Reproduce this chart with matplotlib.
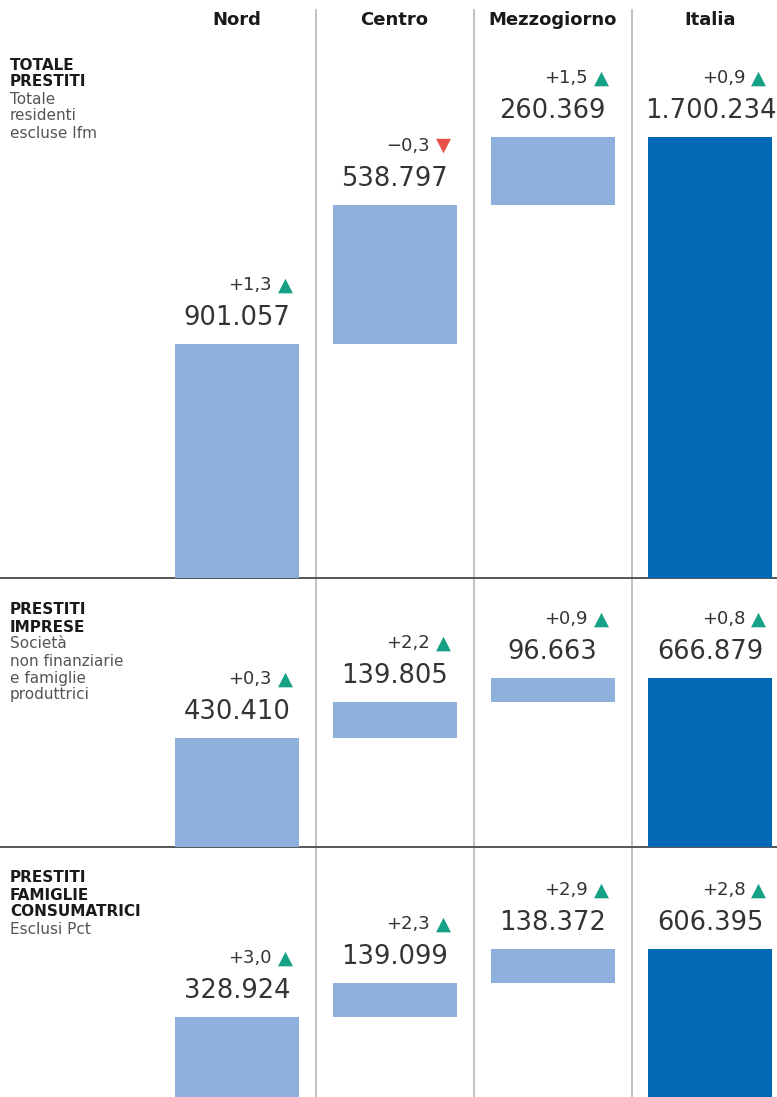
import matplotlib
matplotlib.use("Agg")
import matplotlib.pyplot as plt

# ---------------- data ----------------
regions = ["Nord", "Centro", "Mezzogiorno", "Italia"]

totale = [901057, 538797, 260369, 1700234]
totale_var = [1.3, -0.3, 1.5, 0.9]

imprese = [430410, 139805, 96663, 666879]
imprese_var = [0.3, 2.2, 0.9, 0.8]

famiglie = [328924, 139099, 138372, 606395]
famiglie_var = [3.0, 2.3, 2.9, 2.8]

panel_titles = [["TOTALE", "PRESTITI"],
                ["PRESTITI", "IMPRESE"],
                ["PRESTITI", "FAMIGLIE", "CONSUMATRICI"]]
panel_subtitles = [["Totale", "residenti", "escluse Ifm"],
                   ["Società", "non finanziarie", "e famiglie", "produttrici"],
                   ["Esclusi Pct"]]

# ---------------- style ----------------
W, H = 777, 1097
LIGHT = "#8db0dc"
DARK = "#0068b4"
GREEN = "#16a085"
RED = "#e8504a"
TXT = "#333333"
SEP = "#bdbdbd"

plt.rcParams["font.family"] = ["DejaVu Sans"]

fig = plt.figure(figsize=(W / 100, H / 100), dpi=100)
fig.patch.set_facecolor("white")

# background axes in pixel coordinates
bg = fig.add_axes([0, 0, 1, 1])
bg.set_xlim(0, W)
bg.set_ylim(H, 0)
bg.axis("off")

# vertical separators
for xs in (316, 474, 632):
    bg.plot([xs, xs], [10, H], color=SEP, lw=1.3, zorder=1)
# horizontal panel separators
for ys in (578, 847):
    bg.plot([0, W], [ys, ys], color="#555555", lw=1.4, zorder=5)

# column headers
col_centers = [237, 394.5, 552.5, 710.5]
for name, cx in zip(regions, col_centers):
    bg.text(cx, 20, name, ha="center", va="center", fontsize=13,
            fontweight="bold", color="#1a1a1a")

# left labels
label_tops = [65, 610, 878]
pitch = 17
for tlines, slines, y0 in zip(panel_titles, panel_subtitles, label_tops):
    y = y0
    for ln in tlines:
        bg.text(10, y, ln, ha="left", va="center", fontsize=11,
                fontweight="bold", color="#1a1a1a")
        y += pitch
    for ln in slines:
        bg.text(10, y, ln, ha="left", va="center", fontsize=11,
                color="#555555")
        y += pitch

# ---------------- panels ----------------
spacing = 157.8
x_px0 = 237
xlim = ((0 - x_px0) / spacing, (W - x_px0) / spacing)
bar_w = 124 / spacing

panels = [
    (totale, totale_var, 40, 578, 441 / 1700234),
    (imprese, imprese_var, 578, 847, 169 / 666879),
    (famiglie, famiglie_var, 847, 1097, 148 / 606395),
]


def fmt_val(v):
    return f"{v:,}".replace(",", ".")


def fmt_var(v):
    s = f"{abs(v):.1f}".replace(".", ",")
    return ("+" if v >= 0 else "\u2212") + s


px2pt = 0.72
for vals, vars_, top_px, base_px, scale in panels:
    hpx = base_px - top_px
    ax = fig.add_axes([0, 1 - base_px / H, 1, hpx / H])
    ax.patch.set_alpha(0)
    ax.set_xlim(*xlim)
    ax.set_ylim(0, hpx / scale)
    ax.axis("off")
    # waterfall bottoms: regions stack, Italia from zero
    bottoms = [0, vals[0], vals[0] + vals[1], 0]
    colors = [LIGHT, LIGHT, LIGHT, DARK]
    xs = list(range(len(regions)))
    ax.bar(xs, vals, bottom=bottoms, width=bar_w, color=colors,
           linewidth=0, zorder=3)
    for i, (v, b, d) in enumerate(zip(vals, bottoms, vars_)):
        top = v + b
        ax.annotate(fmt_val(v), (i, top), xytext=(0, 26 * px2pt),
                    textcoords="offset points", ha="center", va="center",
                    fontsize=18.5, color=TXT, annotation_clip=False)
        xr = i + bar_w / 2
        tri = "\u25b2" if d >= 0 else "\u25bc"
        tcol = GREEN if d >= 0 else RED
        ax.annotate(tri, (xr, top), xytext=(-6 * px2pt, 59 * px2pt),
                    textcoords="offset points", ha="right", va="center",
                    fontsize=14, color=tcol, annotation_clip=False)
        ax.annotate(fmt_var(d), (xr, top), xytext=(-27 * px2pt, 59 * px2pt),
                    textcoords="offset points", ha="right", va="center",
                    fontsize=13, color=TXT, annotation_clip=False)

fig.savefig("out.png", dpi=100, facecolor="white")
